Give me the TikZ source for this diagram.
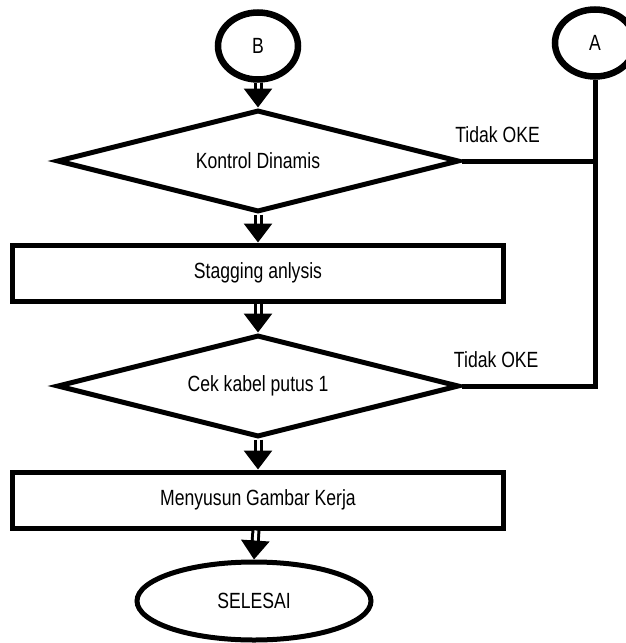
\documentclass[tikz,border=0pt]{standalone}
\usepackage{fontspec}
\setmainfont{Liberation Sans}[FakeStretch=0.8]
\usetikzlibrary{shapes,arrows.meta,positioning}
\tikzstyle{line} = [draw, line width=5pt]
\tikzstyle{flow} = [draw, double, line width=3pt, double distance=3pt, -{Triangle[width=28pt,length=19pt]}]
\tikzstyle{konektor} = [draw, ellipse, line width=6.5pt, minimum width=80pt, minimum height=67pt, font=\fontsize{22}{26}\selectfont]
\tikzstyle{keputusan} = [draw, diamond, aspect=4, line width=5pt, minimum width=402pt, minimum height=102pt, font=\fontsize{22}{26}\selectfont]
\tikzstyle{proses} = [rectangle, draw, line width=5pt, minimum width=491pt, minimum height=56pt, font=\fontsize{22}{26}\selectfont]
\tikzstyle{terminal} = [draw, ellipse, line width=5pt, minimum width=234pt, minimum height=78pt, font=\fontsize{22}{26}\selectfont]
\tikzstyle{ket} = [font=\fontsize{22}{26}\selectfont]

\begin{document}
\begin{tikzpicture}[x=1pt, y=1pt]
		\useasboundingbox (0,0) rectangle (625,-643);
		
		\node[konektor] (B) at (258,-46) {B};
		\node[konektor] (A) at (595,-43) {A};
		
		\node[keputusan, below of=B, node distance=115pt] (kontrol) {Kontrol Dinamis};
		\node[proses, below of=kontrol, node distance=112pt] (stagging) {Stagging anlysis};
		\node[keputusan, below of=stagging, node distance=113pt] (cek) {Cek kabel putus 1};
		\node[proses, below of=cek, node distance=114pt] (gambar) {Menyusun Gambar Kerja};
		\node[terminal, below of=gambar, node distance=101pt, xshift=-4pt] (selesai) {SELESAI};
		
		\path [flow] (B) to (kontrol.north);
		\path [flow] (kontrol.south) to (stagging.north);
		\path [flow] (stagging) to (cek.north);
		\path [flow] (cek.south) to (gambar.north);
		\path [flow] (gambar) to (selesai.north);
		
		% jalur kembali ke A
		\path [line] (kontrol.east) to node [ket, pos=0.27, above=12pt] {Tidak OKE} (kontrol.east -| A.south);
		\path [line, line join=miter] (A.south) |- node [ket, pos=0.87, above=12pt] {Tidak OKE} (cek.east);
		\end{tikzpicture}
\end{document}
